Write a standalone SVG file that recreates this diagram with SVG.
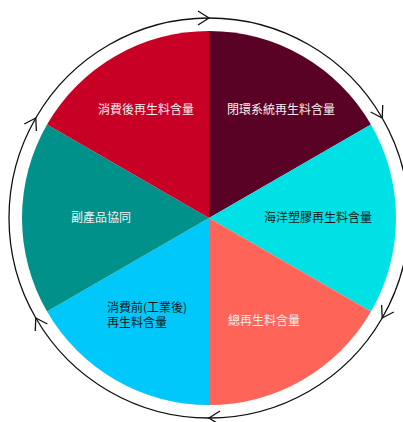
<svg xmlns="http://www.w3.org/2000/svg" width="403" height="422" viewBox="0 0 403 422">
<defs>
<style>
.lbl{font-family:"Noto Sans CJK TC","Noto Sans CJK SC",sans-serif;font-size:12px;}
.lt{fill:#f4f0f0;}
.dk{fill:#141414;}
.ring{fill:none;stroke:#111;stroke-width:1.3;marker-end:url(#chev);}
</style>
<marker id="chev" markerUnits="userSpaceOnUse" markerWidth="30" markerHeight="30" refX="0" refY="0" viewBox="-15 -15 30 30" orient="auto" overflow="visible">
<path d="M-11,-7 L0,0 L-11,7" fill="none" stroke="#111" stroke-width="1.3"/>
</marker>
</defs>
<rect width="403" height="422" fill="#fff"/>
<g id="sector-closed-loop"><path d="M209,218 L209,31 A187,187 0 0 1 370.95,124.5 Z" fill="#5a0226"/>
<text class="lbl lt" x="281" y="114" text-anchor="middle">閉環系統再生料含量</text></g>
<g id="sector-ocean"><path d="M209,218 L370.95,124.5 A187,187 0 0 1 370.95,311.5 Z" fill="#00e1e6"/>
<text class="lbl dk" x="318" y="222" text-anchor="middle">海洋塑膠再生料含量</text></g>
<g id="sector-total"><path d="M209,218 L370.95,311.5 A187,187 0 0 1 209,405 Z" fill="#ff6459"/>
<text class="lbl lt" x="264" y="325" text-anchor="middle">總再生料含量</text></g>
<g id="sector-pre-consumer"><path d="M209,218 L209,405 A187,187 0 0 1 47.05,311.5 Z" fill="#00c8fa"/>
<text class="lbl dk" x="107" y="311.5"><tspan x="107" y="311.5">消費前(工業後)</tspan><tspan x="107" y="326.5">再生料含量</tspan></text></g>
<g id="sector-by-product"><path d="M209,218 L47.05,311.5 A187,187 0 0 1 47.05,124.5 Z" fill="#00928a"/>
<text class="lbl lt" x="101" y="222" text-anchor="middle">副產品協同</text></g>
<g id="sector-post-consumer"><path d="M209,218 L47.05,124.5 A187,187 0 0 1 209,31 Z" fill="#c80025"/>
<text class="lbl lt" x="146" y="114" text-anchor="middle">消費後再生料含量</text></g>
<g id="connectors">
<path class="ring" d="M35.8,118 A200,200 0 0 1 209,18"/>
<path class="ring" d="M209,18 A200,200 0 0 1 382.2,118"/>
<path class="ring" d="M382.2,118 A200,200 0 0 1 382.2,318"/>
<path class="ring" d="M382.2,318 A200,200 0 0 1 209,418"/>
<path class="ring" d="M209,418 A200,200 0 0 1 35.8,318"/>
<path class="ring" d="M35.8,318 A200,200 0 0 1 35.8,118"/>
</g>
</svg>
